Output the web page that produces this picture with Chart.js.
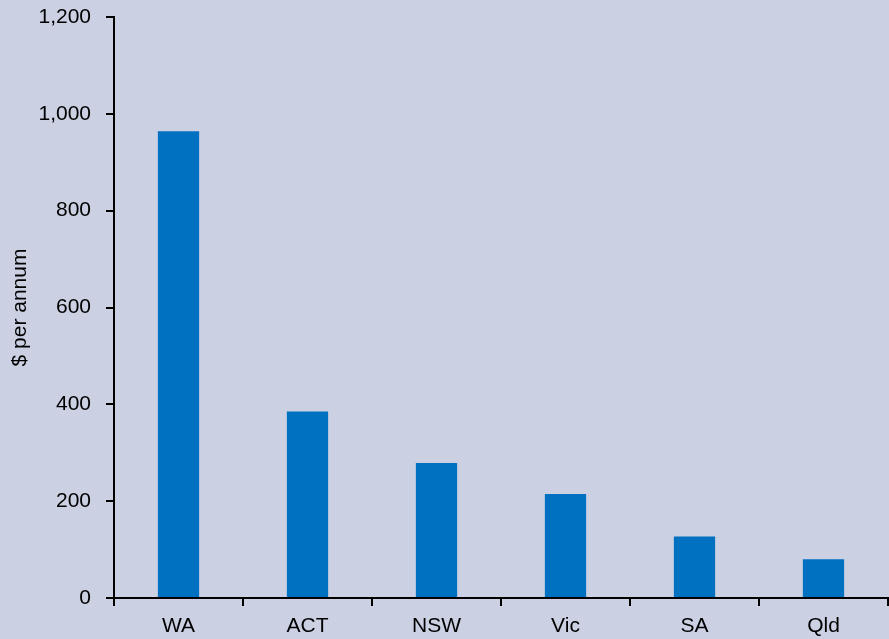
<!DOCTYPE html>
<html>
<head>
<meta charset="utf-8">
<script src="https://cdn.jsdelivr.net/npm/chart.js@4"></script>
<style>
  html, body { margin: 0; padding: 0; background: #cbd1e3; }
  #wrap { width: 889px; height: 639px; }
</style>
</head>
<body>
<div id="wrap"><canvas id="chart" width="889" height="639"></canvas></div>
<script>
const states = ['WA', 'ACT', 'NSW', 'Vic', 'SA', 'Qld'];
const perAnnum = [964, 385, 279, 215, 127, 80];
const yTicks = [0, 200, 400, 600, 800, 1000, 1200];

Chart.defaults.font.family = '"Liberation Sans", Arial, sans-serif';
Chart.defaults.font.size = 21;
Chart.defaults.color = '#000';

const ctx = document.getElementById('chart').getContext('2d');
new Chart(ctx, {
    type: 'bar',
    data: {
        labels: states,
        datasets: [{
            data: perAnnum,
            backgroundColor: '#0070c0',
            categoryPercentage: 1,
            barPercentage: 0.32
        }]
    },
    options: {
        responsive: false,
        animation: false,
        layout: { padding: { top: 17, right: 1, left: 0, bottom: 0 } },
        plugins: {
            legend: { display: false },
            tooltip: { enabled: false }
        },
        scales: {
            x: {
                grid: { drawOnChartArea: false, drawTicks: true, tickLength: 8, color: '#000', lineWidth: 2 },
                border: { display: true, color: '#000', width: 2 },
                ticks: { padding: 8 },
                afterFit: function(scale) {
                    scale.height = 41;
                    scale.paddingLeft = 0;
                    scale.paddingRight = 0;
                }
            },
            y: {
                min: 0,
                max: 1200,
                afterBuildTicks: function(scale) {
                    scale.ticks = yTicks.map(v => ({ value: v }));
                },
                grid: { drawOnChartArea: false, drawTicks: true, tickLength: 8, color: '#000', lineWidth: 2 },
                border: { display: true, color: '#000', width: 2 },
                ticks: {
                    padding: 15,
                    callback: v => v.toLocaleString('en-US')
                },
                title: {
                    display: true,
                    text: '$ per annum',
                    padding: { top: 8, bottom: 0 }
                },
                afterFit: function(scale) {
                    scale.width = 114;
                    scale.paddingTop = 0;
                    scale.paddingBottom = 0;
                }
            }
        }
    }
});
</script>
</body>
</html>
